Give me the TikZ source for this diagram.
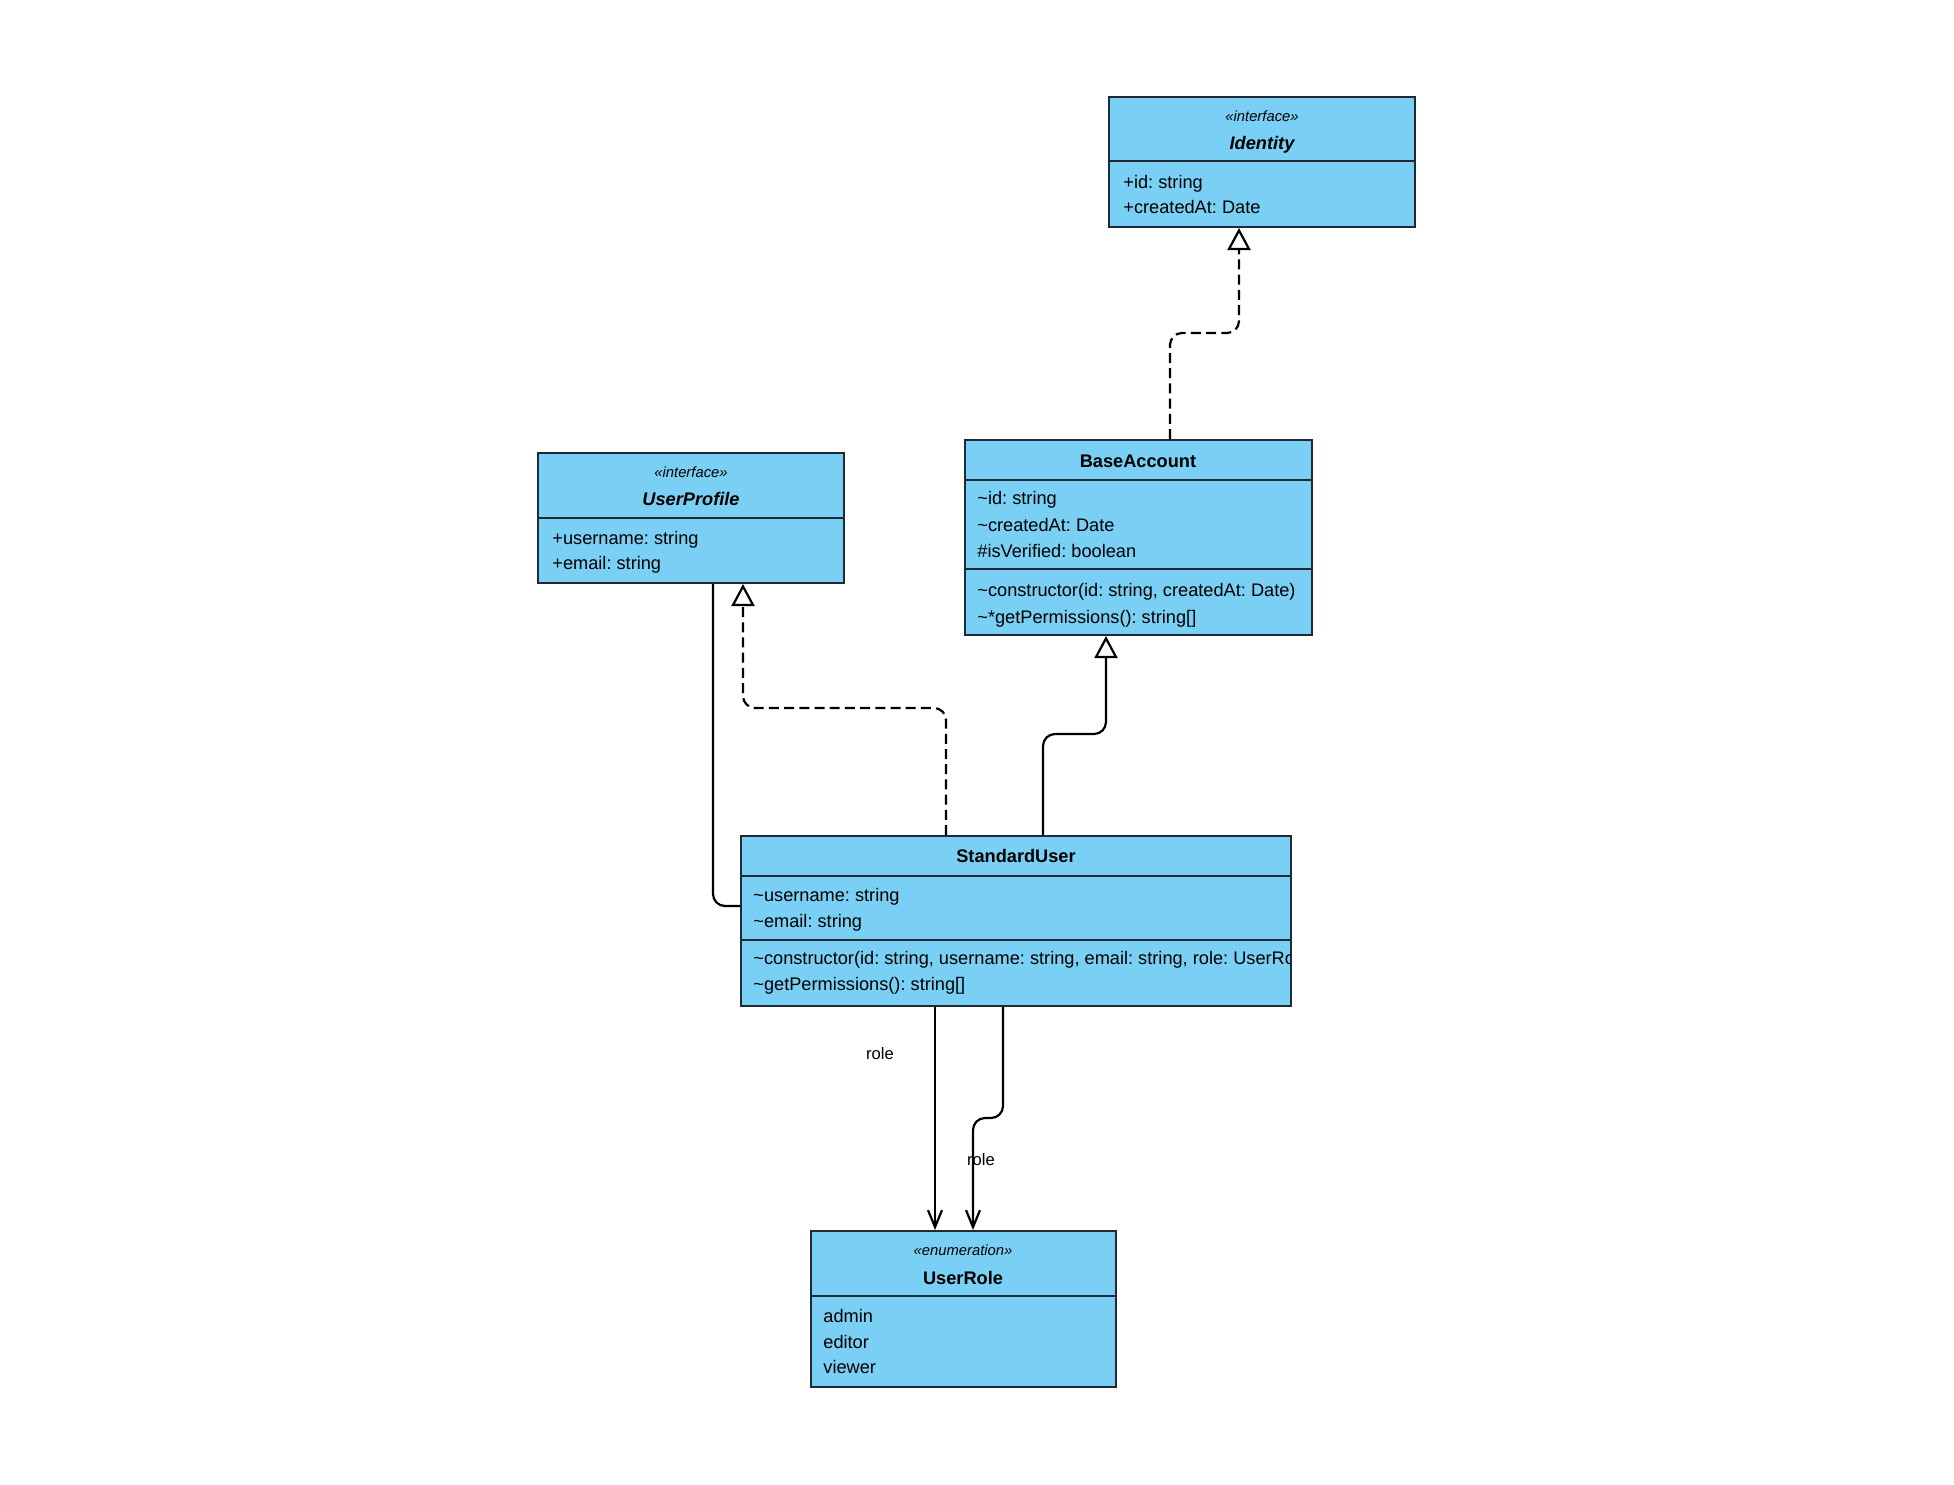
\documentclass[tikz,border=0pt]{standalone}
\usepackage{fontspec}
\setmainfont{Liberation Sans}
\usetikzlibrary{arrows.meta,calc,fit}
\frenchspacing

\definecolor{classfill}{RGB}{122,207,244}
\definecolor{classline}{HTML}{1F2A36}
\newcommand{\vpkg}{\textasciitilde}

\tikzset{
  umlbox/.style={draw=classline, fill=classfill, line width=1pt, inner sep=0pt},
  sepline/.style={draw=classline, line width=1pt},
  classname/.style={font=\fontsize{9.1}{11}\selectfont\bfseries, anchor=base, inner sep=0pt},
  ifacename/.style={classname, font=\fontsize{9.1}{11}\selectfont\bfseries\itshape},
  stereo/.style={font=\fontsize{7.4}{9}\selectfont\itshape, anchor=base, inner sep=0pt},
  member/.style={font=\fontsize{9.1}{11}\selectfont, anchor=base west, inner sep=0pt},
  assoclabel/.style={font=\fontsize{8.3}{10}\selectfont, anchor=base, inner sep=0pt},
  conn/.style={line width=1.1pt, rounded corners=6pt},
  realize/.style={conn, dash pattern=on 5pt off 2.6pt, -{Triangle[open,length=11pt,width=11.5pt]}},
  inherit/.style={conn, -{Triangle[open,length=11pt,width=11.5pt]}},
  navigate/.style={conn, -{Straight Barb[length=8.5pt,width=7pt]}},
}

\begin{document}
\begin{tikzpicture}[x=0.5pt,y=-0.5pt]

    \useasboundingbox (0,0) rectangle (1954,1484);

    % Identity interface
    \node[umlbox, fit={(1109,97) (1415,227)}] (identity) {};
    \draw[sepline] ($(identity.north west)+(0,65)$) -- ($(identity.north east)+(0,65)$);
    \node[stereo] (identity-st) at (1262,121) {«interface»};
    \node[ifacename] (identity-nm) at (1262,149) {Identity};
    \node[member] (identity-a1) at (1123,188) {+id: string};
    \node[member] (identity-a2) at (1123,213) {+createdAt: Date};

    % UserProfile interface
    \node[umlbox, fit={(538,453) (844,583)}] (userprof) {};
    \draw[sepline] ($(userprof.north west)+(0,66)$) -- ($(userprof.north east)+(0,66)$);
    \node[stereo] (userprof-st) at (691,477) {«interface»};
    \node[ifacename] (userprof-nm) at (691,505) {UserProfile};
    \node[member] (userprof-a1) at (552,544) {+username: string};
    \node[member] (userprof-a2) at (552,569) {+email: string};

    % BaseAccount class
    \node[umlbox, fit={(965,440) (1312,635)}] (baseacc) {};
    \draw[sepline] ($(baseacc.north west)+(0,41)$) -- ($(baseacc.north east)+(0,41)$);
    \draw[sepline] ($(baseacc.north west)+(0,130)$) -- ($(baseacc.north east)+(0,130)$);
    \node[classname] (baseacc-nm) at (1138,467) {BaseAccount};
    \node[member] (baseacc-a1) at (977,504) {\vpkg id: string};
    \node[member] (baseacc-a2) at (977,531) {\vpkg createdAt: Date};
    \node[member] (baseacc-a3) at (977,557) {\#isVerified: boolean};
    \node[member] (baseacc-m1) at (977,596) {\vpkg constructor(id: string, createdAt: Date)};
    \node[member] (baseacc-m2) at (977,623) {\vpkg *getPermissions(): string[]};

    % StandardUser class
    \node[umlbox, fit={(741,836) (1291,1006)}] (stduser) {};
    \draw[sepline] ($(stduser.north west)+(0,41)$) -- ($(stduser.north east)+(0,41)$);
    \draw[sepline] ($(stduser.north west)+(0,105)$) -- ($(stduser.north east)+(0,105)$);
    \node[classname] (stduser-nm) at (1016,862) {StandardUser};
    \node[member] (stduser-a1) at (753,901) {\vpkg username: string};
    \node[member] (stduser-a2) at (753,927) {\vpkg email: string};
    \begin{scope}
      \clip ($(stduser.north west)+(0,105)$) rectangle ($(stduser.south east)+(-2,0)$);
      \node[member] (stduser-m1) at (753,964) {\vpkg constructor(id: string, username: string, email: string, role: UserRole)};
    \end{scope}
    \node[member] (stduser-m2) at (753,990) {\vpkg getPermissions(): string[]};

    % UserRole enumeration
    \node[umlbox, fit={(811,1231) (1116,1387)}] (userrole) {};
    \draw[sepline] ($(userrole.north west)+(0,66)$) -- ($(userrole.north east)+(0,66)$);
    \node[stereo] (userrole-st) at (963,1255) {«enumeration»};
    \node[classname] (userrole-nm) at (963,1284) {UserRole};
    \node[member] (userrole-i1) at (823,1322) {admin};
    \node[member] (userrole-i2) at (823,1348) {editor};
    \node[member] (userrole-i3) at (823,1373) {viewer};

    % Draw realizations and generalization
    \draw[realize] ($(baseacc.north west)+(206,0)$) -- ++(0,-106) -| ($(identity.south west)+(131,0)$);
    \draw[realize] ($(stduser.north west)+(206,0)$) -- ++(0,-127) -| ($(userprof.south west)+(206,0)$);
    \draw[inherit] ($(stduser.north west)+(303,0)$) -- ++(0,-101) -| ($(baseacc.south west)+(142,0)$);
    \draw[conn] ($(userprof.south west)+(176,0)$) |- ($(stduser.north west)+(0,71)$);

    % Draw role associations
    \node[assoclabel] (role-a) at (880,1059) {role};
    \node[assoclabel] (role-b) at (981,1165) {role};
    \draw[navigate] ($(stduser.south west)+(195,0)$) -- ($(userrole.north west)+(125,0)$);
    \draw[navigate] ($(stduser.south west)+(263,0)$) -- ++(0,111) -| ($(userrole.north west)+(163,0)$);

\end{tikzpicture}
\end{document}
